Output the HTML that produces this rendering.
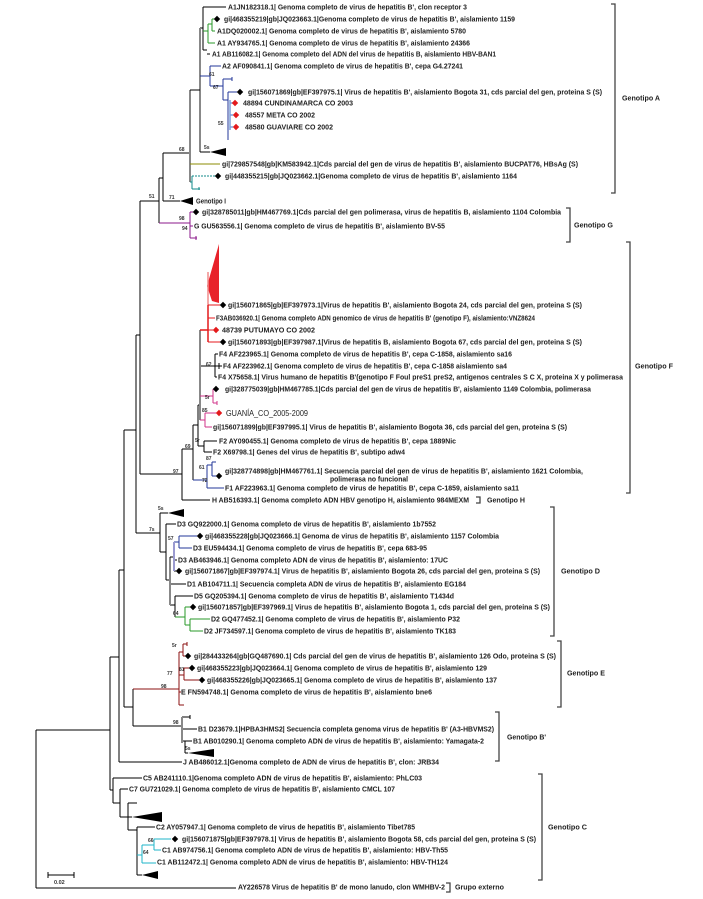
<!DOCTYPE html>
<html><head><meta charset="utf-8"><style>
html,body{margin:0;padding:0;background:#fff;}
svg{display:block;}
.t{font-family:"Liberation Sans",Arial,sans-serif;font-size:7px;font-weight:bold;fill:#1e1e1e;}
.s{font-family:"Liberation Sans",Arial,sans-serif;font-size:5px;font-weight:bold;fill:#333;}
.g{font-family:"Liberation Sans",Arial,sans-serif;font-size:7.5px;font-weight:bold;fill:#222;}
</style></head><body>
<svg width="703" height="899" viewBox="0 0 703 899" xmlns="http://www.w3.org/2000/svg">
<rect width="703" height="899" fill="#fff"/>
<!-- black lines -->
<path fill="none" stroke="#000" stroke-width="1" d="
M36,730V888 M36,730H110 M36,888H236
M110,657V790 M110,790H113 M113,778V803 M113,778H142 M113,803H120
M120,789V817 M120,789H128 M120,817H132 M128,803V830 M128,803H137 M128,830H137
M137,827V875 M137,827H155 M137,875H142
M110,657H119 M119,570V762 M119,570H124 M119,762H182
M124,430V707 M124,707H133 M133,689V726 M133,726H182
M124,430H136 M136,335V533 M136,533H160 M136,335H140 M140,201V474 M140,474H182 M140,201H159
M160,513V552 M160,513H168 M160,552H166 M166,524V580 M166,524H176 M166,580H170
M170,584H186 M170,605H175 M175,596V617 M175,596H193 M174,560H177 M174,571H176
M182,717H190 M190,715V719 M182,729H197 M182,741H192 M185,741V753 M185,753H188
M159,178V223 M159,178H163 M163,153V201 M163,201H180 M163,153H190
M200,28H203 M203,7V50 M203,7H226 M203,50H207 M207,54H210
M182,449V500 M182,500H210 M182,449H193 M193,425V480 M193,425H198
M198,405V446 M198,446H204 M204,441V452 M204,441H217 M204,452H212 M198,405H200
M200,366H215 M215,354V377 M215,354H218 M215,366H222 M215,377H217 M219,363V369
M48,872V878 M48,875H74 M74,872V878
"/>
<!-- gray bars -->
<path fill="none" stroke="#888" stroke-width="2" d="M190,90V182 M200,28V152 M170,557V605 M182,717V743 M200,330V420"/>
<path fill="none" stroke="#000" stroke-width="1" d="M190,90H200 M200,152H210 M170,557H174"/>
<!-- collapsed triangles -->
<g fill="#000">
<polygon points="210,152 226,148 226,156"/>
<polygon points="180,201 193,197 193,205"/>
<polygon points="168,513 184,509 184,517"/>
<polygon points="188,753 214,749 214,757"/>
<polygon points="132,817 162,812 162,822"/>
<polygon points="142,875 158,871 158,879"/>
</g>
<!-- red triangle -->
<polygon points="219,244 207,286 212,301 219,303" fill="#e8222a"/>
<path d="M208,272V305" stroke="#f08a8a" stroke-width="1.5" fill="none"/>
<!-- colored clades -->
<path fill="none" stroke="#2a9a2a" stroke-width="1" d="M203,31H208 M208,24V43 M208,24H212 M212,19V31 M212,19H214 M212,31H215 M208,43H215 M175,617H185 M185,607V625 M185,607H190 M185,625H190 M190,619V631 M190,619H210 M190,631H203"/>
<path fill="none" stroke="#23379a" stroke-width="1" d="M200,76H210 M210,66V86 M210,66H221 M210,86H223 M223,79V100 M223,79H232 M232,77V81 M223,100H228 M228,92V140 M228,92H237 M174,542H179 M179,536V548 M179,536H197 M179,548H192 M193,480H207 M207,465V488 M207,465H212 M212,462V476 M212,462H216 M212,476H216 M207,488H224"/>
<path fill="none" stroke="#7f9fd9" stroke-width="1.5" d="M230,100V130 M230,103H233 M230,115H233 M230,127H233"/>
<path fill="none" stroke="#8b8b00" stroke-width="1" d="M190,164H220"/>
<path fill="none" stroke="#108a8a" stroke-width="1" d="M190,182H192 M192,176V189 M192,189H200 M199,187V190"/>
<path fill="none" stroke="#108a8a" stroke-width="1" stroke-dasharray="2,1" d="M192,176H215"/>
<path fill="none" stroke="#8b1a8b" stroke-width="1" d="M159,223H190 M190,212V238 M190,212H193 M190,226H193 M190,238H197 M196,236V240"/>
<path fill="none" stroke="#e41a1c" stroke-width="1.5" d="M208,305V342 M200,330H208"/>
<path fill="none" stroke="#e41a1c" stroke-width="1" d="M208,305H220 M208,318H215 M208,330H213 M208,342H220"/>
<path fill="none" stroke="#d0338a" stroke-width="1" d="M200,420H205 M205,413V427 M205,413H216 M205,427H212 M200,396H213 M213,389V403 M213,389H213 M213,403H217 M217,401V405"/>
<path fill="none" stroke="#9a9ad0" stroke-width="2" d="M174,542V571"/>
<path fill="none" stroke="#8b1111" stroke-width="1" d="M133,689H179 M179,652V705 M179,705H184 M179,652H183 M183,644V656 M183,644H187 M187,642V646 M183,656H185 M179,675H184 M184,668V680 M184,668H189 M184,680H199 M179,692H181"/>
<path fill="none" stroke="#1fb5c8" stroke-width="1" d="M137,855H142 M142,845V863 M142,845H154 M154,839V850 M154,839H171 M154,850H161 M142,863H156"/>
<!-- brackets -->
<path fill="none" stroke="#444" stroke-width="1.3" d="
M611,4H615V193H611 M566,208H570V242H566 M626,242H630V493H626 M476,497H480V503H476
M550,507H554V636H550 M557,641H561V707H557 M495,712H499V761H495 M538,774H542V880H538 M446,883H450V892H446"/>
<!-- diamonds -->
<g fill="#000">
<polygon points="217,15.8 220.2,19 217,22.2 213.8,19"/>
<polygon points="240,88.8 243.2,92 240,95.2 236.8,92"/>
<polygon points="218,172.8 221.2,176 218,179.2 214.8,176"/>
<polygon points="196,208.8 199.2,212 196,215.2 192.8,212"/>
<polygon points="223,301.8 226.2,305 223,308.2 219.8,305"/>
<polygon points="223,338.8 226.2,342 223,345.2 219.8,342"/>
<polygon points="216,385.8 219.2,389 216,392.2 212.8,389"/>
<polygon points="219,472.8 222.2,476 219,479.2 215.8,476"/>
<polygon points="200,532.8 203.2,536 200,539.2 196.8,536"/>
<polygon points="179,567.8 182.2,571 179,574.2 175.8,571"/>
<polygon points="193,603.8 196.2,607 193,610.2 189.8,607"/>
<polygon points="188,652.8 191.2,656 188,659.2 184.8,656"/>
<polygon points="192,664.8 195.2,668 192,671.2 188.8,668"/>
<polygon points="202,676.8 205.2,680 202,683.2 198.8,680"/>
<polygon points="175,835.8 178.2,839 175,842.2 171.8,839"/>
</g>
<g fill="#e31a1c">
<polygon points="235,99.8 238.2,103 235,106.2 231.8,103"/>
<polygon points="236,111.8 239.2,115 236,118.2 232.8,115"/>
<polygon points="236,123.8 239.2,127 236,130.2 232.8,127"/>
<polygon points="216,326.8 219.2,330 216,333.2 212.8,330"/>
<polygon points="219,409.8 222.2,413 219,416.2 215.8,413"/>
</g>
<!-- leaf labels -->
<g class="t">
<text x="228" y="9.5" textLength="239" lengthAdjust="spacingAndGlyphs">A1JN182318.1| Genoma completo de virus de hepatitis B', clon receptor 3</text>
<text x="224" y="21.5" textLength="291" lengthAdjust="spacingAndGlyphs">gi|468355219|gb|JQ023663.1|Genoma completo de virus de hepatitis B', aislamiento 1159</text>
<text x="217" y="33.5" textLength="249" lengthAdjust="spacingAndGlyphs">A1DQ020002.1| Genoma completo de virus de hepatitis B', aislamiento 5780</text>
<text x="217" y="45.5" textLength="253" lengthAdjust="spacingAndGlyphs">A1 AY934765.1| Genoma completo de virus de hepatitis B', aislamiento 24366</text>
<text x="212" y="56.5" textLength="284" lengthAdjust="spacingAndGlyphs">A1 AB116082.1| Genoma completo del ADN del virus de hepatitis B, aislamiento HBV-BAN1</text>
<text x="222" y="68.5" textLength="241" lengthAdjust="spacingAndGlyphs">A2 AF090841.1| Genoma completo de virus de hepatitis B', cepa G4.27241</text>
<text x="248" y="94.5" textLength="354" lengthAdjust="spacingAndGlyphs">gi|156071869|gb|EF397975.1| Virus de hepatitis B', aislamiento Bogota 31, cds parcial del gen, proteina S (S)</text>
<text x="243" y="105.5" textLength="110" lengthAdjust="spacingAndGlyphs">48894 CUNDINAMARCA CO 2003</text>
<text x="245" y="117.5" textLength="70" lengthAdjust="spacingAndGlyphs">48557 META CO 2002</text>
<text x="245" y="129.5" textLength="88" lengthAdjust="spacingAndGlyphs">48580 GUAVIARE CO 2002</text>
<text x="222" y="166.5" textLength="356" lengthAdjust="spacingAndGlyphs">gi|729857548|gb|KM583942.1|Cds parcial del gen de virus de hepatitis B', aislamiento BUCPAT76, HBsAg (S)</text>
<text x="225" y="178.5" textLength="292" lengthAdjust="spacingAndGlyphs">gi|448355215|gb|JQ023662.1|Genoma completo de virus de hepatitis B', aislamiento 1164</text>
<text x="196" y="203.5" textLength="30" lengthAdjust="spacingAndGlyphs">Genotipo I</text>
<text x="202" y="214.5" textLength="359" lengthAdjust="spacingAndGlyphs">gi|328785011|gb|HM467769.1|Cds parcial del gen polimerasa, virus de hepatitis B, aislamiento 1104 Colombia</text>
<text x="194" y="228.5" textLength="251" lengthAdjust="spacingAndGlyphs">G GU563556.1| Genoma completo de virus de hepatitis B', aislamiento BV-55</text>
<text x="228" y="307.5" textLength="354" lengthAdjust="spacingAndGlyphs">gi|156071865|gb|EF397973.1|Virus de hepatitis B', aislamiento Bogota 24, cds parcial del gen, proteina S (S)</text>
<text x="216" y="320.5" textLength="319" lengthAdjust="spacingAndGlyphs">F3AB036920.1| Genoma completo ADN genomico de virus de hepatitis B' (genotipo F), aislamiento:VNZ8624</text>
<text x="222" y="332.5" textLength="93" lengthAdjust="spacingAndGlyphs">48739 PUTUMAYO CO 2002</text>
<text x="228" y="344.5" textLength="354" lengthAdjust="spacingAndGlyphs">gi|156071893|gb|EF397987.1|Virus de hepatitis B, aislamiento Bogota 67, cds parcial del gen, proteina S (S)</text>
<text x="219" y="356.5" textLength="293" lengthAdjust="spacingAndGlyphs">F4 AF223965.1| Genoma completo de virus de hepatitis B', cepa C-1858, aislamiento sa16</text>
<text x="223" y="368.5" textLength="284" lengthAdjust="spacingAndGlyphs">F4 AF223962.1| Genoma completo de virus de hepatitis B', cepa C-1858 aislamiento sa4</text>
<text x="218" y="379.5" textLength="405" lengthAdjust="spacingAndGlyphs">F4 X75658.1| Virus humano de hepatitis B'(genotipo F Foul preS1 preS2, antigenos centrales S C X, proteina X y polimerasa</text>
<text x="225" y="391.5" textLength="366" lengthAdjust="spacingAndGlyphs">gi|328775039|gb|HM467785.1|Cds parcial del gen de virus de hepatitis B', aislamiento 1149 Colombia, polimerasa</text>
<text x="226" y="415.8" textLength="82" lengthAdjust="spacingAndGlyphs" style="font-size:7.8px;font-weight:normal">GUANÍA_CO_2005-2009</text>
<text x="213" y="429.5" textLength="354" lengthAdjust="spacingAndGlyphs">gi|156071899|gb|EF397995.1| Virus de hepatitis B', aislamiento Bogota 36, cds parcial del gen, proteina S (S)</text>
<text x="219" y="443.5" textLength="237" lengthAdjust="spacingAndGlyphs">F2 AY090455.1| Genoma completo de virus de hepatitis B', cepa 1889Nic</text>
<text x="213" y="454.5" textLength="192" lengthAdjust="spacingAndGlyphs">F2 X69798.1| Genes del virus de hepatitis B', subtipo adw4</text>
<text x="225" y="473.5" textLength="358" lengthAdjust="spacingAndGlyphs">gi|328774898|gb|HM467761.1| Secuencia parcial del gen de virus de hepatitis B', aislamiento 1621 Colombia,</text>
<text x="330" y="481.5" textLength="78" lengthAdjust="spacingAndGlyphs">polimerasa no funcional</text>
<text x="225" y="490.5" textLength="294" lengthAdjust="spacingAndGlyphs">F1 AF223963.1| Genoma completo de virus de hepatitis B', cepa C-1859, aislamiento sa11</text>
<text x="212" y="502.5" textLength="257" lengthAdjust="spacingAndGlyphs">H AB516393.1| Genoma completo ADN HBV genotipo H, aislamiento 984MEXM</text>
<text x="177" y="526.5" textLength="259" lengthAdjust="spacingAndGlyphs">D3 GQ922000.1| Genoma completo de virus de hepatitis B', aislamiento 1b7552</text>
<text x="205" y="538.5" textLength="294" lengthAdjust="spacingAndGlyphs">gi|468355228|gb|JQ023666.1| Genoma de virus de hepatitis B', aislamiento 1157 Colombia</text>
<text x="193" y="550.5" textLength="234" lengthAdjust="spacingAndGlyphs">D3 EU594434.1| Genoma completo de virus de hepatitis B', cepa 683-95</text>
<text x="178" y="562.5" textLength="270" lengthAdjust="spacingAndGlyphs">D3 AB463946.1| Genoma completo ADN de virus de hepatitis B', aislamiento: 17UC</text>
<text x="185" y="573.5" textLength="355" lengthAdjust="spacingAndGlyphs">gi|156071867|gb|EF397974.1| Virus de hepatitis B', aislamiento Bogota 26, cds parcial del gen, proteina S (S)</text>
<text x="187" y="586.5" textLength="279" lengthAdjust="spacingAndGlyphs">D1 AB104711.1| Secuencia completa ADN de virus de hepatitis B', aislamiento EG184</text>
<text x="194" y="598.5" textLength="260" lengthAdjust="spacingAndGlyphs">D5 GQ205394.1| Genoma completo de virus de hepatitis B', aislamiento T1434d</text>
<text x="198" y="609.5" textLength="352" lengthAdjust="spacingAndGlyphs">gi|156071857|gb|EF397969.1| Virus de hepatitis B', aislamiento Bogota 1, cds parcial del gen, proteina S (S)</text>
<text x="211" y="621.5" textLength="249" lengthAdjust="spacingAndGlyphs">D2 GQ477452.1| Genoma completo de virus de hepatitis B', aislamiento P32</text>
<text x="204" y="633.5" textLength="252" lengthAdjust="spacingAndGlyphs">D2 JF734597.1| Genoma completo de virus de hepatitis B', aislamiento TK183</text>
<text x="194" y="658.5" textLength="362" lengthAdjust="spacingAndGlyphs">gi|284433264|gb|GQ487690.1| Cds parcial  del gen de virus de hepatitis B', aislamiento 126 Odo, proteina S (S)</text>
<text x="197" y="670.5" textLength="290" lengthAdjust="spacingAndGlyphs">gi|468355223|gb|JQ023664.1| Genoma completo de virus de hepatitis B', aislamiento 129</text>
<text x="207" y="682.5" textLength="290" lengthAdjust="spacingAndGlyphs">gi|468355226|gb|JQ023665.1| Genoma completo de virus de hepatitis B', aislamiento 137</text>
<text x="181" y="694.5" textLength="251" lengthAdjust="spacingAndGlyphs">E FN594748.1| Genoma completo de virus de hepatitis B', aislamiento bne6</text>
<text x="198" y="731.5" textLength="296" lengthAdjust="spacingAndGlyphs">B1 D23679.1|HPBA3HMS2| Secuencia completa genoma virus de hepatitis B' (A3-HBVMS2)</text>
<text x="193" y="743.5" textLength="291" lengthAdjust="spacingAndGlyphs">B1 AB010290.1| Genoma completo ADN de virus de hepatitis B', aislamiento: Yamagata-2</text>
<text x="183" y="764.5" textLength="256" lengthAdjust="spacingAndGlyphs">J AB486012.1|Genoma completo de ADN de virus de hepatitis B', clon: JRB34</text>
<text x="143" y="780.5" textLength="279" lengthAdjust="spacingAndGlyphs">C5 AB241110.1|Genoma completo ADN de virus de hepatitis B', aislamiento: PhLC03</text>
<text x="129" y="791.5" textLength="266" lengthAdjust="spacingAndGlyphs">C7 GU721029.1| Genoma completo de virus de hepatitis B', aislamiento CMCL 107</text>
<text x="156" y="829.5" textLength="259" lengthAdjust="spacingAndGlyphs">C2 AY057947.1| Genoma completo de virus de hepatitis B', aislamiento Tibet785</text>
<text x="182" y="841.5" textLength="354" lengthAdjust="spacingAndGlyphs">gi|156071875|gb|EF397978.1| Virus de hepatitis B', aislamiento Bogota 58, cds parcial del gen, proteina S (S)</text>
<text x="162" y="852.5" textLength="286" lengthAdjust="spacingAndGlyphs">C1 AB974756.1| Genoma completo ADN de virus de hepatitis B', aislamiento: HBV-Th55</text>
<text x="157" y="864.5" textLength="291" lengthAdjust="spacingAndGlyphs">C1 AB112472.1| Genoma completo ADN de virus de hepatitis B', aislamiento: HBV-TH124</text>
<text x="238" y="889.5" textLength="207" lengthAdjust="spacingAndGlyphs">AY226578 Virus de hepatitis B' de mono lanudo, clon WMHBV-2</text>
</g>
<!-- genotype labels -->
<g class="g">
<text x="622" y="100.5" textLength="38" lengthAdjust="spacingAndGlyphs">Genotipo A</text>
<text x="574" y="227.5" textLength="39" lengthAdjust="spacingAndGlyphs">Genotipo G</text>
<text x="635" y="368.5" textLength="38" lengthAdjust="spacingAndGlyphs">Genotipo F</text>
<text x="487" y="502.5" textLength="38" lengthAdjust="spacingAndGlyphs">Genotipo H</text>
<text x="561" y="573.5" textLength="39" lengthAdjust="spacingAndGlyphs">Genotipo D</text>
<text x="567" y="675.5" textLength="38" lengthAdjust="spacingAndGlyphs">Genotipo E</text>
<text x="507" y="739.5" textLength="39" lengthAdjust="spacingAndGlyphs">Genotipo B'</text>
<text x="548" y="829.5" textLength="39" lengthAdjust="spacingAndGlyphs">Genotipo C</text>
<text x="455" y="889.5" textLength="49" lengthAdjust="spacingAndGlyphs">Grupo externo</text>
</g>
<!-- support values -->
<g class="s">
<text x="209" y="76">61</text>
<text x="213" y="89">67</text>
<text x="218" y="125">55</text>
<text x="204" y="149">5s</text>
<text x="179" y="151">68</text>
<text x="169" y="199">71</text>
<text x="149" y="198">51</text>
<text x="179" y="220">98</text>
<text x="182" y="230">94</text>
<text x="206" y="366">62</text>
<text x="205" y="399">5r</text>
<text x="202" y="412">85</text>
<text x="195" y="442">5r</text>
<text x="185" y="448">69</text>
<text x="173" y="473">97</text>
<text x="206" y="460">87</text>
<text x="199" y="469">61</text>
<text x="202" y="482">72</text>
<text x="158" y="510">5s</text>
<text x="149" y="531">7s</text>
<text x="168" y="540">57</text>
<text x="173" y="615">64</text>
<text x="172" y="647">5r</text>
<text x="167" y="675">77</text>
<text x="179" y="671">81</text>
<text x="161" y="688">98</text>
<text x="173" y="724">98</text>
<text x="185" y="750">5s</text>
<text x="148" y="842">66</text>
<text x="143" y="854">64</text>
<text x="54" y="884" style="font-size:5.5px">0.02</text>
</g>
</svg>
</body></html>
